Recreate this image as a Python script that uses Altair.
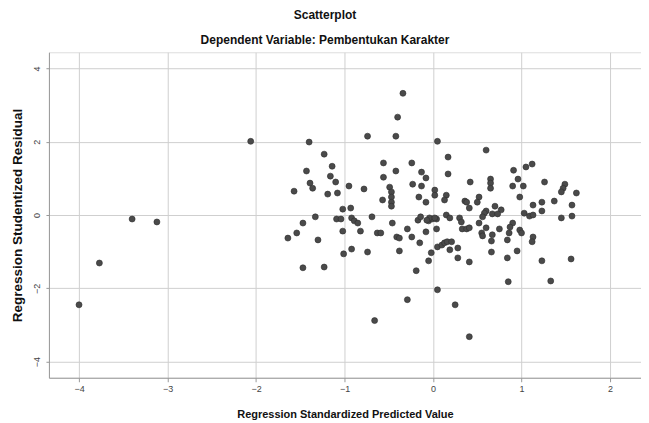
import altair as alt
import pandas as pd

# Regression standardized predicted value (x) and studentized residual (y)
x_pred = [
    -4.00, -3.77, -3.40, -3.12, -2.06,
    -0.34, -0.40, -0.74, -0.42, -1.40, 0.05, -1.23, 0.60, 0.17, -1.14,
    -1.43, -0.56, -0.42, -0.24, -0.13, -0.08, -1.16, -1.10, -1.39, -1.36,
    -1.57, -0.95, -0.78, -1.19, -1.08, -0.56, -0.49, -0.47, -0.47, -0.47,
    -0.47, -0.57, -0.23, -0.13, -0.16, -0.08, 0.02, 0.02, 0.17, 0.42,
    0.65, 0.65, 0.65, 0.91, 1.05, 1.12, 0.96, 0.90, 1.02, 1.26,
    1.49, 1.47, 1.45, 1.62, 0.15, 0.13, 0.36, 0.52, 0.50, 0.41,
    0.70, 0.98, 1.13, 1.23, 1.37, 1.57, 0.60, 0.77, -1.02, -0.93,
    -1.33, -1.47, -1.54, -1.64, -1.30, -1.09, -1.04, -0.92, -0.89, -0.85,
    -1.02, -0.82, -0.69, -0.46, -0.63, -0.59, -0.41, -0.38, -0.29, -0.24,
    -0.15, -0.17, -0.14, -0.05, -0.01, 0.04, -0.08, 0.04, -0.02, -0.05,
    0.05, -1.01, -0.92, -0.74, -0.38, -1.47, -1.23, -0.19, 0.05, -0.29,
    -0.66, 0.38, 1.23, 1.57, 1.45, 0.15, 0.19, 0.30, 0.32, 0.58,
    0.56, 0.67, 0.73, 1.03, 1.09, 1.13, 0.52, 0.33, 0.38, 0.41,
    0.60, 0.55, 0.56, 0.67, 0.66, 0.75, 0.86, 0.84, 0.90, 0.87,
    0.98, 1.00, 1.13, 1.12, 0.10, 0.13, 0.16, 0.21, 0.19, 0.28,
    0.28, 0.41, 0.66, 0.84, 0.95, 1.23, 1.56, 0.85, 1.33, 0.25,
    0.41, -0.04, 0.02, -0.07,
]
y_resid = [
    -2.45, -1.31, -0.11, -0.19, 2.01,
    3.32, 2.67, 2.15, 2.15, 1.99, 2.01, 1.66, 1.77, 1.58, 1.33,
    1.20, 1.42, 1.20, 1.42, 1.17, 1.01, 1.06, 0.90, 0.87, 0.73,
    0.65, 0.79, 0.71, 0.57, 0.60, 1.03, 0.76, 0.63, 0.49, 0.35,
    0.24, 0.41, 0.84, 0.79, 0.49, 0.35, 0.68, 0.54, 1.12, 0.90,
    0.98, 0.87, 0.73, 1.22, 1.31, 1.39, 0.98, 0.79, 0.79, 0.90,
    0.84, 0.73, 0.63, 0.60, 0.54, 0.41, 0.38, 0.49, 0.35, 0.19,
    0.24, 0.49, 0.27, 0.35, 0.38, 0.27, 0.11, 0.14, 0.16, 0.19,
    -0.05, -0.22, -0.49, -0.63, -0.68, -0.11, -0.11, -0.08, -0.16, -0.22,
    -0.44, -0.44, -0.05, -0.22, -0.49, -0.49, -0.60, -0.63, -0.38, -0.60,
    -0.76, -0.14, -0.05, -0.16, -0.11, -0.11, -0.46, -0.38, -1.03, -1.25,
    -0.87, -1.06, -0.93, -1.01, -0.98, -1.44, -1.42, -1.52, -2.04, -2.31,
    -2.88, 0.35, 0.11, -0.03, -0.08, 0.00, -0.08, -0.08, -0.19, 0.05,
    -0.05, 0.03, 0.03, 0.05, -0.03, 0.00, -0.22, -0.38, -0.38, -0.35,
    -0.35, -0.49, -0.57, -0.54, -0.71, -0.38, -0.49, -0.68, -0.22, -0.33,
    -0.41, -0.49, -0.60, -0.73, -0.82, -0.76, -0.73, -0.73, -0.95, -0.90,
    -1.17, -1.28, -1.01, -1.17, -0.98, -1.25, -1.20, -1.82, -1.80, -2.45,
    -3.32, -0.08, -0.08, -0.14,
]

x_ticks = [-4, -3, -2, -1, 0, 1, 2]
y_ticks = [-4, -2, 0, 2, 4]

FONT = "Liberation Sans, Arial, sans-serif"

df = pd.DataFrame({"pred": x_pred, "resid": y_resid})

chart = alt.Chart(df).mark_circle(
    size=36, color="#4a4a4a", opacity=1, stroke="#2e2e2e", strokeWidth=0.6
).encode(
    x=alt.X(
        "pred:Q",
        scale=alt.Scale(domain=[-4.34, 2.35], nice=False, zero=False),
        axis=alt.Axis(
            values=x_ticks,
            title="Regression Standardized Predicted Value",
            titleFont=FONT, titleFontSize=11, titleFontWeight="bold",
            titleColor="#111111", titlePadding=15,
            labelFont=FONT, labelFontSize=9, labelColor="#444444",
            labelPadding=3, tickSize=4, tickColor="#999999",
            domainColor="#999999", gridColor="#cfcfcf",
            format="d",
        ),
    ),
    y=alt.Y(
        "resid:Q",
        scale=alt.Scale(domain=[-4.44, 4.44], nice=False, zero=False),
        axis=alt.Axis(
            values=y_ticks,
            title="Regression Studentized Residual",
            titleFont=FONT, titleFontSize=13.5, titleFontWeight="bold",
            titleColor="#111111", titlePadding=8,
            labelFont=FONT, labelFontSize=9, labelColor="#444444",
            labelAngle=-90, labelAlign="center", labelBaseline="bottom",
            labelPadding=4, tickSize=3, tickColor="#999999",
            domainColor="#999999", gridColor="#cfcfcf",
            format="d",
        ),
    ),
).properties(
    width=593,
    height=326,
    title=alt.TitleParams(
        text="Scatterplot",
        subtitle="Dependent Variable: Pembentukan Karakter",
        font=FONT, fontSize=12, fontWeight="bold", color="#111111",
        subtitleFont=FONT, subtitleFontSize=12, subtitleFontWeight="bold",
        subtitleColor="#111111", subtitlePadding=13,
        anchor="middle", offset=5, dx=-20,
    ),
    padding={"left": 41, "top": 44, "right": 0, "bottom": 45},
    autosize="none",
).configure_view(stroke=None).configure(background="white")

chart.save("out.html", embed_options={"renderer": "svg", "actions": False})
